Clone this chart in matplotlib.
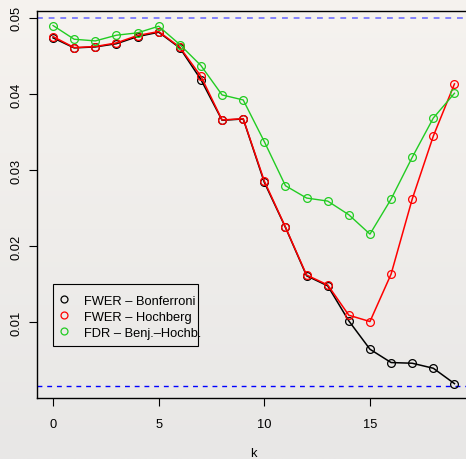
import numpy as np
import matplotlib
matplotlib.use('Agg')
import matplotlib.pyplot as plt
from matplotlib.patches import Rectangle

plt.rcParams['font.family'] = ['Liberation Sans', 'DejaVu Sans']

k = list(range(20))
bonferroni = [0.04737, 0.04605, 0.04618, 0.04660, 0.04754, 0.04811, 0.04605, 0.04188,
              0.03654, 0.03671, 0.02838, 0.02246, 0.01610, 0.01478, 0.01017, 0.00645,
              0.00470, 0.00461, 0.00395, 0.00193]
hochberg = [0.04754, 0.04609, 0.04623, 0.04671, 0.04768, 0.04820, 0.04614, 0.04232,
            0.03658, 0.03675, 0.02855, 0.02250, 0.01620, 0.01490, 0.01092, 0.01009,
            0.01632, 0.02618, 0.03447, 0.04132]
fdr = [0.04899, 0.04719, 0.04697, 0.04772, 0.04803, 0.04890, 0.04649, 0.04373,
       0.03987, 0.03921, 0.03373, 0.02794, 0.02632, 0.02592, 0.02412, 0.02158,
       0.02618, 0.03167, 0.03684, 0.04009]
alpha = 0.05
n_tests = 30
labels = ['FWER \u2013 Bonferroni', 'FWER \u2013 Hochberg', 'FDR \u2013 Benj.\u2013Hochb.']

fig = plt.figure(figsize=(4.66, 4.6), dpi=100)

# soft vertical gradient behind everything
bg = fig.add_axes([0, 0, 1, 1], zorder=0)
top = np.array([246, 243, 239]) / 255
bot = np.array([232, 231, 230]) / 255
t = np.linspace(0, 1, 256)[:, None]
grad = top[None, :] * (1 - t) + bot[None, :] * t
bg.imshow(grad[:, None, :], aspect='auto', extent=[0, 1, 0, 1])
bg.axis('off')

ax = fig.add_axes([0.0794, 0.1326, 0.9303, 0.8413], zorder=1)
ax.patch.set_alpha(0)

ax.axhline(alpha, color='#6f6fff', lw=1.2, dashes=(3.5, 3.5))
ax.axhline(alpha / n_tests, color='blue', lw=1.0, dashes=(3.5, 3.5))

ax.plot(k, bonferroni, color='black', lw=1.1, marker='o', mfc='none', ms=5.6, mew=0.9, label=labels[0])
ax.plot(k, hochberg, color='red', lw=1.1, marker='o', mfc='none', ms=5.6, mew=0.9, label=labels[1])
ax.plot(k, fdr, color='#22cc22', lw=1.0, marker='o', mfc='none', ms=5.6, mew=0.9, label=labels[2])

ax.set_xlim(-0.76, 19.76)
ax.set_ylim(0.00004, 0.0509)
ax.set_xticks([0, 5, 10, 15])
ax.set_yticks([0.01, 0.02, 0.03, 0.04, 0.05])
ax.set_yticklabels(['0.01', '0.02', '0.03', '0.04', '0.05'], rotation=90, va='center')
ax.tick_params(axis='both', direction='out', length=5.5, width=0.8, labelsize=9.3)
ax.tick_params(axis='x', pad=9)
ax.tick_params(axis='y', pad=5)
for s in ax.spines.values():
    s.set_linewidth(1.0)
ax.set_xlabel('k', fontsize=9.3, labelpad=12)

# legend entries without frame, box drawn separately so text may run past it
leg = ax.legend(loc='upper left', bbox_to_anchor=(0.0277, 0.2946), borderaxespad=0,
                fontsize=9.3, frameon=False, handlelength=0.6, handletextpad=1.25,
                labelspacing=0.3, borderpad=0.85)
for h in leg.legend_handles:
    h.set_linestyle('none')
    h.set_markersize(5)

to_ax = lambda px, py: ((px - 37) / 433.5, (399 - py) / 387)
x0, y0 = to_ax(53, 347)
x1, y1 = to_ax(198, 285)
ax.add_patch(Rectangle((x0, y0), x1 - x0, y1 - y0, transform=ax.transAxes,
                       fill=False, edgecolor='black', lw=0.8, zorder=5))

fig.savefig('out.png', dpi=100)
